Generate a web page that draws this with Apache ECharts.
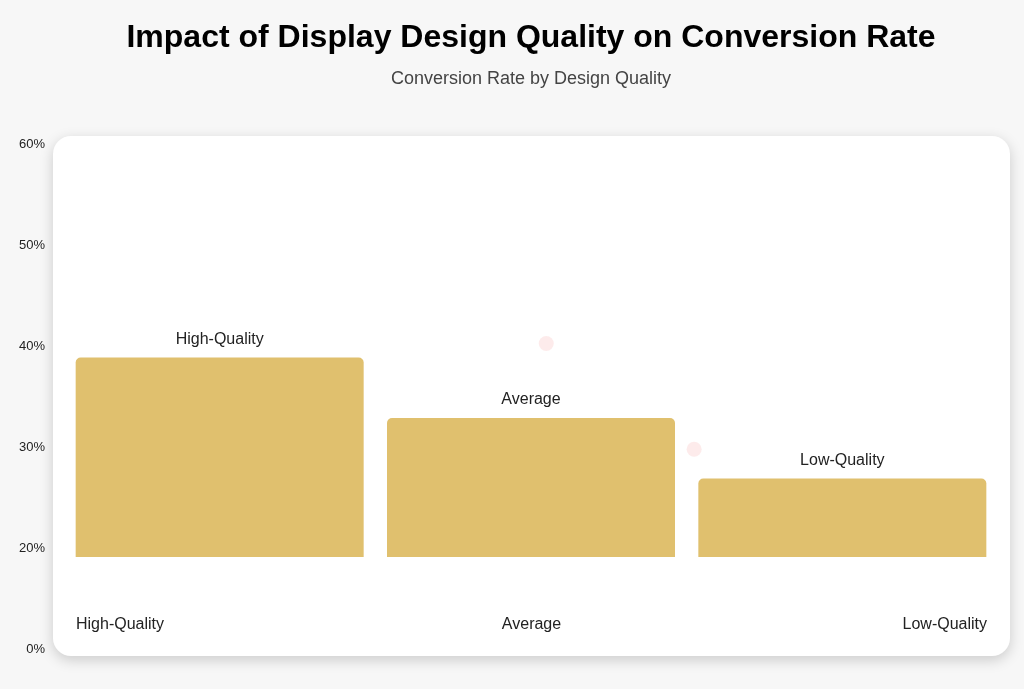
<!DOCTYPE html>
<html>
<head>
<meta charset="utf-8">
<script src="https://cdn.jsdelivr.net/npm/echarts@6/dist/echarts.min.js"></script>
<style>
html,body{margin:0;padding:0;background:#f7f7f7;}
#chart{width:1024px;height:689px;}
</style>
</head>
<body>
<div id="chart"></div>
<script>
const categories = ['High-Quality', 'Average', 'Low-Quality'];
const conversionRates = [38.8, 32.8, 26.8];
const yTickLabels = ['0%', '20%', '30%', '40%', '50%', '60%'];
const decorDots = [[1.549, 40.2], [2.024, 29.7]];

const chart = echarts.init(document.getElementById('chart'));
const font = 'Liberation Sans, Arial, sans-serif';

const option = {
  backgroundColor: '#f7f7f7',
  animation: false,
  title: {
    text: 'Impact of Display Design Quality on Conversion Rate',
    subtext: 'Conversion Rate by Design Quality',
    left: 526,
    textAlign: 'center',
    top: 17,
    itemGap: 16,
    textStyle: { fontFamily: font, fontSize: 32, fontWeight: 'bold', color: '#000' },
    subtextStyle: { fontFamily: font, fontSize: 18, color: '#444' }
  },
  graphic: [{
    type: 'rect',
    z: -10,
    shape: { x: 53, y: 136, width: 957, height: 520, r: 18 },
    style: { fill: '#fff', shadowBlur: 14, shadowColor: 'rgba(0,0,0,0.18)', shadowOffsetY: 4 }
  }],
  grid: [
    { left: 64, right: 26, top: 144, height: 413 },
    { left: 50, width: 1, top: 144, bottom: 40 },
    { left: 76, right: 37, top: 600, height: 30 }
  ],
  xAxis: [
    { type: 'category', gridIndex: 0, data: categories, show: false },
    { type: 'value', gridIndex: 0, min: 0, max: 3, show: false },
    { type: 'value', gridIndex: 1, show: false },
    {
      type: 'value', gridIndex: 2, min: 0, max: 2, interval: 1, position: 'bottom',
      axisLine: { show: false }, axisTick: { show: false }, splitLine: { show: false },
      axisLabel: {
        margin: -13,
        fontFamily: font, fontSize: 16, color: '#222',
        alignMinLabel: 'left', alignMaxLabel: 'right',
        formatter: (v) => categories[Math.round(v)]
      }
    }
  ],
  yAxis: [
    { type: 'value', gridIndex: 0, min: 19, max: 60, show: false },
    {
      type: 'category', gridIndex: 1, data: yTickLabels, boundaryGap: false,
      axisLine: { show: false }, axisTick: { show: false }, splitLine: { show: false },
      axisLabel: { margin: 5, fontFamily: font, fontSize: 13, color: '#222', interval: 0 }
    },
    { type: 'value', gridIndex: 2, show: false }
  ],
  series: [
    {
      type: 'bar',
      xAxisIndex: 0, yAxisIndex: 0,
      data: conversionRates,
      barWidth: 288,
      itemStyle: { color: '#e0c06e', borderRadius: [5, 5, 0, 0] },
      label: {
        show: true, position: 'top', distance: 10,
        formatter: (p) => categories[p.dataIndex],
        fontFamily: font, fontSize: 16, color: '#222'
      }
    },
    {
      type: 'scatter',
      xAxisIndex: 1, yAxisIndex: 0,
      data: decorDots,
      symbolSize: 15,
      itemStyle: { color: '#fde6e6' },
      z: 1
    }
  ]
};
chart.setOption(option);
</script>
</body>
</html>
